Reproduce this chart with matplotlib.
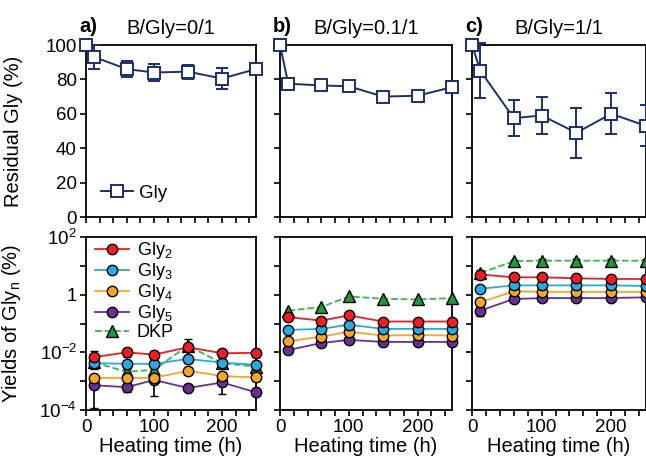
import matplotlib
matplotlib.use("Agg")
import matplotlib.pyplot as plt
from matplotlib.ticker import FixedLocator, MultipleLocator
import numpy as np

plt.rcParams['font.family'] = ['Liberation Sans', 'DejaVu Sans']
plt.rcParams['mathtext.fontset'] = 'custom'
plt.rcParams['mathtext.rm'] = 'Liberation Sans'
plt.rcParams['mathtext.it'] = 'Liberation Sans:italic'

# Heating times (h)
time_gly = [0, 12, 60, 100, 150, 200, 250]
time_pep = [12, 60, 100, 150, 200, 250]

# Residual Gly (%) for each B/Gly ratio
panel_titles = ["B/Gly=0/1", "B/Gly=0.1/1", "B/Gly=1/1"]
panel_letters = ["a)", "b)", "c)"]
gly_a = [100, 93, 86, 84, 84.5, 80.5, 86]
gly_a_err = [0, 7, 4.5, 5, 4, 6, 2]
gly_b = [100, 77.5, 76.5, 76, 70, 70.5, 75.5]
gly_b_err = [0, 1, 1, 1, 1, 1, 1]
gly_c = [100, 85, 57.5, 59, 49, 60, 53]
gly_c_err = [0, 16, 10.5, 10.5, 14.5, 12, 12]

# Yields of Gly_n (%) -- panel a
gly2_a = [6.8e-3, 1.0e-2, 8.3e-3, 1.5e-2, 9.3e-3, 9.6e-3]
gly3_a = [4.2e-3, 4.0e-3, 4.0e-3, 5.9e-3, 4.4e-3, 3.7e-3]
gly4_a = [1.3e-3, 1.3e-3, 1.3e-3, 2.3e-3, 1.5e-3, 1.35e-3]
gly5_a = [7.2e-4, 6.2e-4, 1.1e-3, 5.8e-4, 9.0e-4, 4.1e-4]
dkp_a = [4.5e-3, 2.1e-3, 2.5e-3, 1.7e-2, 4.2e-3, 3.2e-3]
gly2_a_err = [4e-3, 3e-3, 2.5e-3, 3e-3, 2.5e-3, 2.5e-3]
gly3_a_err = [1.5e-3, 1.2e-3, 1.2e-3, 1.5e-3, 1.2e-3, 1.2e-3]
gly4_a_err = [3e-4, 3e-4, 3e-4, 5e-4, 3e-4, 3e-4]
gly5_a_err = [6e-4, 2e-4, 8e-4, 1e-4, 5.3e-4, 1e-4]
dkp_a_err = [1.5e-3, 6e-4, 6e-4, 1.1e-2, 1e-3, 8e-4]

# panel b
gly2_b = [0.166, 0.126, 0.19, 0.117, 0.117, 0.117]
gly3_b = [0.060, 0.065, 0.091, 0.065, 0.065, 0.065]
gly4_b = [0.024, 0.035, 0.052, 0.038, 0.040, 0.038]
gly5_b = [0.012, 0.021, 0.027, 0.023, 0.023, 0.023]
dkp_b = [0.28, 0.37, 0.87, 0.72, 0.68, 0.76]

# panel c
gly2_c = [5.0, 4.0, 4.0, 3.7, 3.5, 3.5]
gly3_c = [1.6, 2.1, 2.1, 2.1, 2.1, 2.0]
gly4_c = [0.55, 1.3, 1.25, 1.25, 1.25, 1.25]
gly5_c = [0.28, 0.71, 0.76, 0.76, 0.76, 0.81]
dkp_c = [5.6, 14.5, 15.1, 15.1, 15.1, 15.1]
gly2_c_err = [0.8, 0.6, 0.6, 0.6, 0.6, 0.5]
gly3_c_err = [0.2, 0.2, 0.2, 0.2, 0.2, 0.2]
gly4_c_err = [0.15, 0.15, 0.1, 0.1, 0.1, 0.1]
gly5_c_err = [0.1, 0.08, 0.08, 0.08, 0.08, 0.08]
dkp_c_err = [1.5, 1.5, 1.5, 1.5, 1.5, 1.5]

series_names = ["Gly$_2$", "Gly$_3$", "Gly$_4$", "Gly$_5$", "DKP"]
series_colors = ["#ee1c24", "#27aae1", "#f7a724", "#6b2f93", "#1e9a3c"]
line_colors = ["#ee1c24", "#27aae1", "#f7a724", "#6b2f93", "#3cb54a"]

gly_sets = [(gly_a, gly_a_err), (gly_b, gly_b_err), (gly_c, gly_c_err)]
pep_sets = [
    ([gly2_a, gly3_a, gly4_a, gly5_a, dkp_a],
     [gly2_a_err, gly3_a_err, gly4_a_err, gly5_a_err, dkp_a_err]),
    ([gly2_b, gly3_b, gly4_b, gly5_b, dkp_b], None),
    ([gly2_c, gly3_c, gly4_c, gly5_c, dkp_c],
     [gly2_c_err, gly3_c_err, gly4_c_err, gly5_c_err, dkp_c_err]),
]

navy = "#1b2f6e"
fig = plt.figure(figsize=(6.46, 4.70), dpi=100)

lefts = [86, 280, 472]
widths = [170, 172, 174]
W, H = 646, 470

for i in range(3):
    ax_top = fig.add_axes([lefts[i] / W, 1 - 217 / H, widths[i] / W, 172 / H])
    ax_bot = fig.add_axes([lefts[i] / W, 1 - 410 / H, widths[i] / W, 173 / H])

    # residual glycine
    vals, errs = gly_sets[i]
    gly_cont = ax_top.errorbar(time_gly, vals, yerr=errs, color=navy, lw=1.4, marker='s',
                               ms=8.5, mfc='white', mec=navy, mew=1.4, ecolor=navy,
                               elinewidth=1.4, capsize=4, capthick=1.4, clip_on=False,
                               zorder=3)
    ax_top.set_ylim(0, 100)
    ax_top.set_yticks([0, 20, 40, 60, 80, 100])

    # peptide yields
    ys, es = pep_sets[i]
    pep_lines = []
    for k in range(5):
        dashed = (k == 4)
        cont = ax_bot.errorbar(time_pep, ys[k], yerr=None if es is None else es[k],
                               color=line_colors[k], ls='--' if dashed else '-', lw=1.3,
                               marker='^' if dashed else 'o', ms=8 if dashed else 7.5,
                               mfc=series_colors[k], mec='black', mew=1.0,
                               ecolor='black', elinewidth=1.2, capsize=3, capthick=1.2,
                               clip_on=False, zorder=3 + (5 - k) * 0.1)
        pep_lines.append(cont.lines[0])
    ax_bot.set_yscale('log')
    ax_bot.set_ylim(1e-4, 1e2)
    ax_bot.yaxis.set_major_locator(FixedLocator([1e-4, 1e-3, 1e-2, 1e-1, 1, 1e1, 1e2]))
    ax_bot.yaxis.set_minor_locator(FixedLocator([]))
    ax_bot.set_yticklabels(["$10^{-4}$", "", "$10^{-2}$", "", "1", "", "$10^{2}$"])

    for ax in (ax_top, ax_bot):
        ax.set_xlim(0, 250)
        ax.xaxis.set_major_locator(FixedLocator([0, 100, 200]))
        ax.xaxis.set_minor_locator(MultipleLocator(20))
        ax.tick_params(which='both', direction='out', length=4.5, width=1.2,
                       labelsize=13.5, pad=2)
        for sp in ax.spines.values():
            sp.set_linewidth(1.3)
        if i > 0:
            ax.set_yticklabels([])

    ax_top.set_xticklabels([])
    ax_bot.set_xlabel("Heating time (h)", fontsize=14.5, labelpad=1)

    ax_top.set_title(panel_titles[i], fontsize=14.5, pad=8)
    ax_top.text(-0.04, 1.105, panel_letters[i], transform=ax_top.transAxes,
                fontsize=14.5, fontweight='bold', ha='left', va='center')

    if i == 0:
        ax_top.set_ylabel("Residual Gly (%)", fontsize=14.5)
        ax_top.yaxis.set_label_coords(-0.37, 0.5)
        ax_bot.set_ylabel("Yields of Gly$_\\mathrm{n}$ (%)", fontsize=14.5)
        ax_bot.yaxis.set_label_coords(-0.37, 0.5)
        ax_top.legend([gly_cont.lines[0]], ["Gly"], loc='lower left', frameon=False,
                      fontsize=13.5, handlelength=1.7, handletextpad=0.35,
                      borderaxespad=0.4, bbox_to_anchor=(0.0, 0.0))
        ax_bot.legend(pep_lines, series_names, loc='upper left', frameon=False,
                      fontsize=13, handlelength=1.9, labelspacing=0.0,
                      borderaxespad=0.1, handletextpad=0.4,
                      bbox_to_anchor=(0.0, 1.035))

fig.savefig("out.png", dpi=100)
